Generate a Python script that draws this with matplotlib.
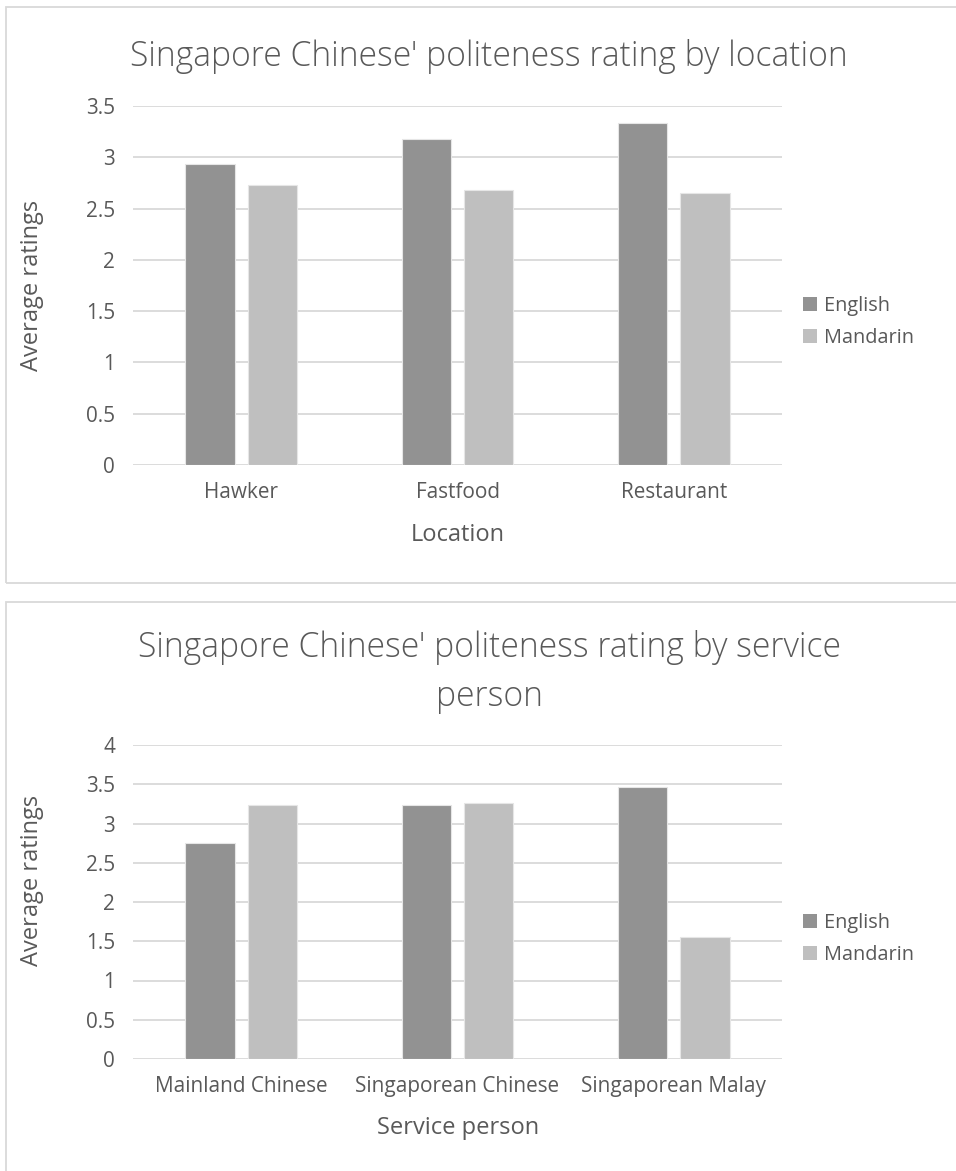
import matplotlib
matplotlib.use('Agg')
import matplotlib.pyplot as plt
from matplotlib.patches import Rectangle, Patch
from matplotlib.textpath import TextPath
from matplotlib.font_manager import FontProperties
import numpy as np

FONT = 'Open Sans'
plt.rcParams['font.family'] = [FONT, 'DejaVu Sans']

# data
locations = ['Hawker', 'Fastfood', 'Restaurant']
loc_english = [2.93, 3.18, 3.33]
loc_mandarin = [2.73, 2.68, 2.65]

persons = ['Mainland Chinese', 'Singaporean Chinese', 'Singaporean Malay']
per_english = [2.75, 3.23, 3.46]
per_mandarin = [3.23, 3.26, 1.56]

series_names = ['English', 'Mandarin']

W, H, DPI = 956, 1171, 100
c_eng = '#929292'
c_man = '#bfbfbf'
grid_c = '#d9d9d9'
txt_c = '#595959'


def size_for(text, width_px, weight='normal'):
    # font size (pt) that makes text about width_px wide
    prop = FontProperties(family=FONT, weight=weight)
    w = TextPath((0, 0), text, size=100, prop=prop).get_extents().width
    return width_px * 72 / DPI * 100 / w


title_fs = size_for("Singapore Chinese' politeness rating by location", 712, 'light')
tick_fs = size_for('Mainland Chinese', 170)
label_fs = size_for('Average ratings', 170)
legend_fs = size_for('English', 62)

fig = plt.figure(figsize=(W / DPI, H / DPI), dpi=DPI)


def px_axes(x0, y_top, x1, y_bot):
    return fig.add_axes([x0 / W, 1 - y_bot / H, (x1 - x0) / W, (y_bot - y_top) / H])


def chart_box(y0, y1):
    fig.patches.append(Rectangle((6 / W, 1 - y1 / H), (975 - 6) / W, (y1 - y0) / H,
                                 transform=fig.transFigure, fill=False,
                                 edgecolor=grid_c, linewidth=1.3))


def draw_bars(ax, cats, eng, man, ymax, xlabel, ylabel_y, xlabel_y):
    x = np.arange(len(cats))
    w = 0.227
    off = 0.144
    ax.bar(x - off, eng, w, color=c_eng, edgecolor='#e6e6e6', linewidth=0.8, zorder=3)
    ax.bar(x + off, man, w, color=c_man, edgecolor='#e6e6e6', linewidth=0.8, zorder=3)
    ax.set_xlim(-0.5, len(cats) - 0.5)
    ax.set_ylim(0, ymax)
    ticks = np.arange(0, ymax + 0.01, 0.5)
    ax.set_yticks(ticks)
    ax.set_yticklabels(['%g' % v for v in ticks])
    ax.set_xticks(x)
    ax.set_xticklabels(cats)
    for s in ax.spines.values():
        s.set_visible(False)
    ax.yaxis.grid(True, color=grid_c, linewidth=1.3, zorder=0)
    ax.set_axisbelow(True)
    ax.tick_params(axis='both', length=0, labelsize=tick_fs, labelcolor=txt_c)
    ax.tick_params(axis='y', pad=13)
    ax.tick_params(axis='x', pad=12)
    ax.set_ylabel('Average ratings', fontsize=label_fs, color=txt_c)
    ax.yaxis.set_label_coords(32 / W, 1 - ylabel_y / H, transform=fig.transFigure)
    ax.set_xlabel(xlabel, fontsize=label_fs, color=txt_c)
    ax.xaxis.set_label_coords(458 / W, 1 - xlabel_y / H, transform=fig.transFigure)
    ax.xaxis.label.set_va('center')
    ax.yaxis.label.set_va('center')


def draw_legend(y_mid):
    handles = [Patch(facecolor=c_eng), Patch(facecolor=c_man)]
    fig.legend(handles, series_names, loc='center left',
               bbox_to_anchor=(793 / W, 1 - y_mid / H), frameon=False,
               fontsize=legend_fs, labelcolor=txt_c, handlelength=0.7, handleheight=0.7,
               handletextpad=0.35, labelspacing=0.6, borderpad=0)


# top chart
chart_box(7, 583)
ax1 = px_axes(133, 106, 782, 465)
draw_bars(ax1, locations, loc_english, loc_mandarin, 3.5, 'Location', 285, 535)
fig.text(489 / W, 1 - 56 / H, "Singapore Chinese' politeness rating by location",
         ha='center', va='center', fontsize=title_fs, color=txt_c, fontweight='light')
draw_legend(322)

# bottom chart
chart_box(602, 1185)
ax2 = px_axes(133, 745, 782, 1059)
draw_bars(ax2, persons, per_english, per_mandarin, 4, 'Service person', 880, 1128)
fig.text(489 / W, 1 - 672 / H, "Singapore Chinese' politeness rating by service\nperson",
         ha='center', va='center', fontsize=title_fs, color=txt_c, fontweight='light',
         linespacing=1.55)
draw_legend(939)

fig.savefig('out.png', dpi=DPI)
